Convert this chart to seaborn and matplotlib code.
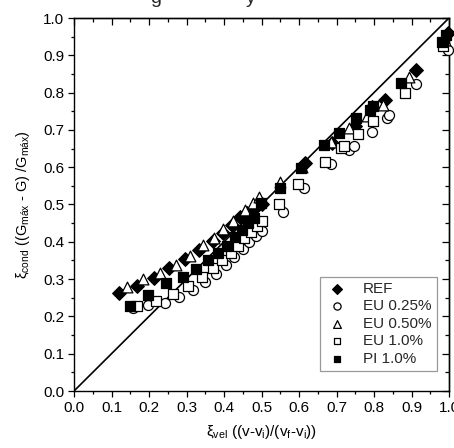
import numpy as np
import pandas as pd
import matplotlib
matplotlib.use("Agg")
import matplotlib.pyplot as plt
import seaborn as sns
from matplotlib.ticker import MultipleLocator

# ---------------- data ----------------
ref_x = [0.120, 0.167, 0.213, 0.254, 0.296, 0.334, 0.370, 0.396, 0.420, 0.443, 0.462, 0.482, 0.500,
         0.616, 0.688, 0.748, 0.794, 0.830, 0.913, 0.997]
ref_y = [0.264, 0.281, 0.302, 0.329, 0.353, 0.378, 0.403, 0.423, 0.445, 0.467, 0.478, 0.490, 0.500,
         0.610, 0.666, 0.711, 0.761, 0.781, 0.861, 0.959]

eu025_x = [0.156, 0.198, 0.243, 0.281, 0.318, 0.349, 0.379, 0.405, 0.427, 0.450, 0.467, 0.485, 0.500,
           0.557, 0.613, 0.686, 0.734, 0.747, 0.794, 0.834, 0.841, 0.912, 0.998]
eu025_y = [0.222, 0.231, 0.235, 0.251, 0.271, 0.293, 0.314, 0.338, 0.358, 0.380, 0.400, 0.416, 0.430,
           0.480, 0.543, 0.608, 0.646, 0.657, 0.695, 0.731, 0.740, 0.823, 0.914]

eu050_x = [0.140, 0.185, 0.229, 0.272, 0.309, 0.343, 0.372, 0.398, 0.423, 0.456, 0.478, 0.494,
           0.549, 0.607, 0.685, 0.734, 0.782, 0.825, 0.892, 0.988]
eu050_y = [0.280, 0.299, 0.316, 0.338, 0.362, 0.391, 0.410, 0.434, 0.457, 0.485, 0.503, 0.519,
           0.560, 0.601, 0.668, 0.706, 0.737, 0.767, 0.842, 0.940]

eu10_x = [0.169, 0.219, 0.263, 0.303, 0.340, 0.370, 0.395, 0.418, 0.436, 0.454, 0.471, 0.487, 0.500,
          0.547, 0.598, 0.669, 0.712, 0.720, 0.758, 0.798, 0.883, 0.985]
eu10_y = [0.228, 0.242, 0.260, 0.281, 0.305, 0.329, 0.351, 0.371, 0.389, 0.409, 0.427, 0.442, 0.455,
          0.500, 0.555, 0.613, 0.651, 0.657, 0.690, 0.725, 0.798, 0.925]

pi10_x = [0.148, 0.198, 0.245, 0.290, 0.326, 0.358, 0.385, 0.407, 0.428, 0.447, 0.465, 0.481, 0.499,
          0.548, 0.606, 0.666, 0.707, 0.752, 0.790, 0.798, 0.871, 0.980, 0.992]
pi10_y = [0.228, 0.257, 0.290, 0.306, 0.327, 0.351, 0.371, 0.389, 0.412, 0.432, 0.450, 0.463, 0.503,
          0.545, 0.597, 0.659, 0.693, 0.731, 0.753, 0.763, 0.827, 0.936, 0.954]

series_names = ["REF", "EU 0.25%", "EU 0.50%", "EU 1.0%", "PI 1.0%"]
series_x = [ref_x, eu025_x, eu050_x, eu10_x, pi10_x]
series_y = [ref_y, eu025_y, eu050_y, eu10_y, pi10_y]

line_x = [0.0, 1.0]
line_y = [0.0, 1.0]

x_ticks = [0.0, 0.1, 0.2, 0.3, 0.4, 0.5, 0.6, 0.7, 0.8, 0.9, 1.0]
y_ticks = [0.0, 0.1, 0.2, 0.3, 0.4, 0.5, 0.6, 0.7, 0.8, 0.9, 1.0]

# ---------------- style ----------------
sns.set_theme(style="white")
plt.rcParams["font.family"] = ["Liberation Sans", "DejaVu Sans"]
plt.rcParams["mathtext.fontset"] = "custom"
plt.rcParams["mathtext.rm"] = "Liberation Sans"
plt.rcParams["mathtext.it"] = "Liberation Sans:italic"
plt.rcParams["mathtext.bf"] = "Liberation Sans:bold"

markers = ["D", "o", "^", "s", "s"]
faces = ["black", "white", "white", "white", "black"]
sizes = [48, 52, 60, 46, 46]

fig = plt.figure(figsize=(4.54, 4.48), dpi=100)
ax = fig.add_axes([74 / 454, 57 / 448, 375 / 454, 373 / 448])

sns.lineplot(x=line_x, y=line_y, ax=ax, color="black", linewidth=1.2, zorder=1)

for name, xs, ys, m, fc, s in zip(series_names, series_x, series_y, markers, faces, sizes):
    df = pd.DataFrame({"x": xs, "y": ys})
    sns.scatterplot(data=df, x="x", y="y", ax=ax, marker=m, s=s,
                    facecolor=fc, edgecolor="black", linewidth=0.9,
                    label=name, zorder=3, clip_on=False)

ax.set_xlim(0, 1)
ax.set_ylim(0, 1)
ax.set_xticks(x_ticks)
ax.set_yticks(y_ticks)
ax.set_xticklabels([f"{t:.1f}" for t in x_ticks])
ax.set_yticklabels([f"{t:.1f}" for t in y_ticks])
ax.xaxis.set_minor_locator(MultipleLocator(0.05))
ax.yaxis.set_minor_locator(MultipleLocator(0.05))
ax.tick_params(which="major", direction="out", length=4.5, width=0.9, color="black",
               labelsize=11, pad=2.5, labelcolor="black")
ax.tick_params(which="minor", direction="out", length=2.5, width=0.9, color="black")
ax.tick_params(bottom=True, left=True, top=False, right=False, which="both")
for sp in ax.spines.values():
    sp.set_visible(True)
    sp.set_color("black")
    sp.set_linewidth(1.0)

secx = ax.secondary_xaxis("top")
secx.xaxis.set_major_locator(MultipleLocator(0.1))
secx.xaxis.set_minor_locator(MultipleLocator(0.05))
secx.tick_params(which="major", direction="in", length=5, width=0.9, labeltop=False, color="black")
secx.tick_params(which="minor", direction="in", length=3, width=0.9, color="black")
secx.spines["top"].set_linewidth(1.0)

secy = ax.secondary_yaxis("right")
secy.yaxis.set_major_locator(MultipleLocator(0.1))
secy.yaxis.set_minor_locator(MultipleLocator(0.05))
secy.tick_params(which="major", direction="in", length=5, width=0.9, labelright=False, color="black")
secy.tick_params(which="minor", direction="in", length=3, width=0.9, color="black")
secy.spines["right"].set_linewidth(1.0)

ax.set_xlabel(r"ξ$_{\mathregular{vel}}$ ((v-v$_{\mathregular{i}}$)/(v$_{\mathregular{f}}$-v$_{\mathregular{i}}$))",
              fontsize=11, labelpad=6, color="black")
ax.set_ylabel(r"ξ$_{\mathregular{cond}}$ ((G$_{\mathregular{máx}}$ - G) /G$_{\mathregular{máx}}$)",
              fontsize=10.5, labelpad=8, color="black")

leg = ax.legend(loc="lower right", bbox_to_anchor=(0.968, 0.054), borderaxespad=0,
                frameon=True, fancybox=False, edgecolor="#808080", fontsize=11,
                markerscale=0.72, handletextpad=0.9, labelspacing=0.22,
                borderpad=0.35, handlelength=1.6)
leg.get_frame().set_linewidth(0.9)

# clipped remnants of the title above the figure
fig.text(150 / 454, 1 - 3 / 448, "g", fontsize=14, ha="left", va="baseline")
fig.text(246 / 454, 1 - 3 / 448, "y", fontsize=14, ha="left", va="baseline")

fig.savefig("out.png", dpi=100)
